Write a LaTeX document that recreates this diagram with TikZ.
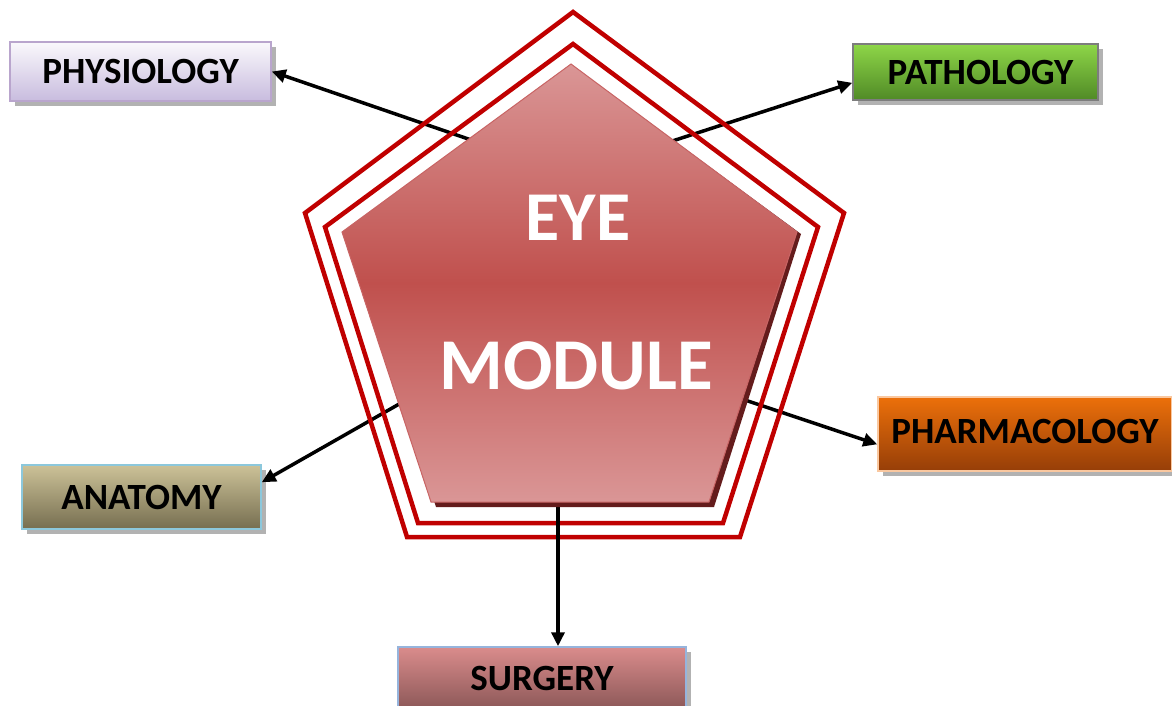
\documentclass[tikz,border=0pt]{standalone}
\usepackage{fontspec}
\setmainfont{Carlito}
\usetikzlibrary{arrows.meta,shadows}
\definecolor{pentred}{RGB}{192,0,0}
\definecolor{pinklight}{RGB}{218,150,150}
\definecolor{pinkmid}{RGB}{192,80,77}
\definecolor{pinkedge}{RGB}{200,100,100}
\definecolor{pinkshadow}{RGB}{100,28,28}
\tikzset{
  box/.style={rectangle, draw, line width=1.5pt, font=\bfseries\fontsize{37}{37}\selectfont, text=black,
    drop shadow={shadow xshift=5pt, shadow yshift=-5pt, fill=black!30, opacity=1}},
  conn/.style={line width=3.5pt, -{Triangle[length=14pt,width=13pt]}},
  outline/.style={draw=pentred, line width=4.5pt, line join=miter},
}
\begin{document}
\begin{tikzpicture}[x=1pt,y=-1pt]
\useasboundingbox (0,0) rectangle (1172,706);
% boxes
\node[box, draw={rgb,255:red,185;green,165;blue,205}, top color={rgb,255:red,250;green,248;blue,252}, bottom color={rgb,255:red,200;green,188;blue,222}, minimum width=261pt, minimum height=59pt] (phys) at (140.5,71.5) {PHYSIOLOGY};
\node[box, draw={rgb,255:red,125;green,125;blue,125}, top color={rgb,255:red,142;green,214;blue,72}, bottom color={rgb,255:red,80;green,138;blue,38}, minimum width=245pt, minimum height=56pt] (path) at (975.5,72) {\hspace*{10pt}PATHOLOGY};
\node[box, draw={rgb,255:red,250;green,200;blue,160}, top color={rgb,255:red,236;green,112;blue,10}, bottom color={rgb,255:red,150;green,62;blue,8}, minimum width=294pt, minimum height=74pt, drop shadow={opacity=0}] (pharm) at (1025,434) {\raisebox{6pt}{PHARMACOLOGY}};
\node[box, draw={rgb,255:red,140;green,200;blue,220}, top color={rgb,255:red,204;green,194;blue,152}, bottom color={rgb,255:red,118;green,110;blue,80}, minimum width=239pt, minimum height=64pt] (anat) at (141.5,497) {ANATOMY};
\node[box, draw={rgb,255:red,150;green,180;blue,220}, top color={rgb,255:red,218;green,140;blue,140}, bottom color={rgb,255:red,140;green,88;blue,88}, minimum width=288pt, minimum height=62pt] (surg) at (542,678) {SURGERY};
% arrow start points (hidden under the pentagon)
\coordinate (sphys) at (480,143);
\coordinate (spath) at (660,145);
\coordinate (spharm) at (730,395);
\coordinate (sanat) at (415,395);
\coordinate (ssurg) at (558,500);
\draw[conn] (sphys) -- (phys.east);
\draw[conn] (spath) -- (path.185);
\draw[conn] (spharm) -- (pharm.184);
\draw[conn] (sanat) -- (anat.7);
% pentagon outlines
\draw[outline] (573,12) -- (844,213) -- (740,537) -- (407,537) -- (305,213) -- cycle;
\draw[outline] (573,44) -- (818,227) -- (723,523) -- (418,523) -- (325,227) -- cycle;
\draw[conn] (ssurg) -- (ssurg |- surg.north);
% inner filled pentagon
\fill[pinkshadow] (575,68) -- (801,234) -- (714,507) -- (436,507) -- (346,232) -- cycle;
\shade[top color=pinklight, bottom color=pinklight, middle color=pinkmid, draw=pinkedge, line width=1pt]
  (571,64) -- (797,232) -- (709,502) -- (431,502) -- (342,232) -- cycle;
\node[font=\bfseries\fontsize{70}{70}\selectfont, text=white] (eye) at (578,218) {EYE};
\node[font=\bfseries\fontsize{73}{73}\selectfont, text=white] (mod) at (576,366) {MODULE};
\end{tikzpicture}
\end{document}
